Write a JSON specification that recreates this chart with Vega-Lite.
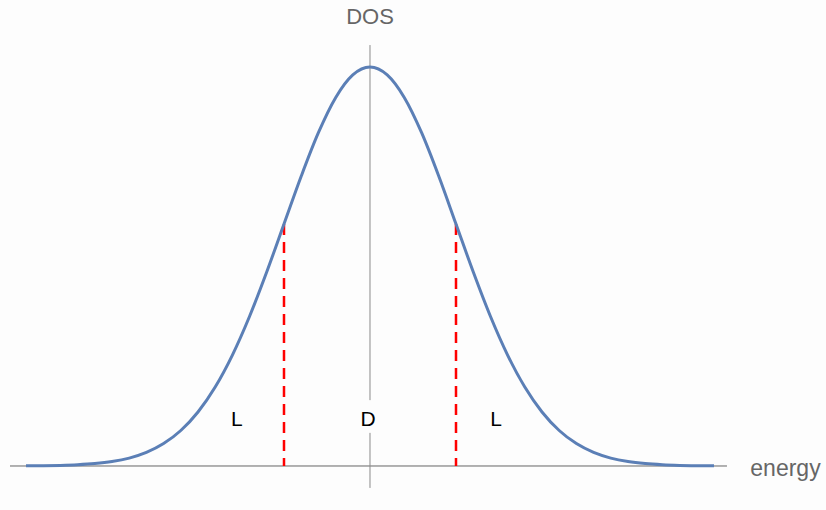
{
  "$schema": "https://vega.github.io/schema/vega-lite/v6.json",
  "width": 826,
  "height": 510,
  "autosize": "none",
  "padding": 0,
  "background": "#fdfdfd",
  "config": {"view": {"stroke": null}},
  "datasets": {
    "curve": [
      {"e": -4.0, "dos": 0.0003}, {"e": -3.8, "dos": 0.0007}, {"e": -3.6, "dos": 0.0015},
      {"e": -3.4, "dos": 0.0031}, {"e": -3.2, "dos": 0.0060}, {"e": -3.0, "dos": 0.0111},
      {"e": -2.8, "dos": 0.0198}, {"e": -2.6, "dos": 0.0340}, {"e": -2.4, "dos": 0.0561},
      {"e": -2.2, "dos": 0.0889}, {"e": -2.0, "dos": 0.1353}, {"e": -1.8, "dos": 0.1979},
      {"e": -1.6, "dos": 0.2780}, {"e": -1.4, "dos": 0.3753}, {"e": -1.2, "dos": 0.4868},
      {"e": -1.0, "dos": 0.6065}, {"e": -0.8, "dos": 0.7261}, {"e": -0.6, "dos": 0.8353},
      {"e": -0.4, "dos": 0.9231}, {"e": -0.2, "dos": 0.9802}, {"e": 0.0, "dos": 1.0},
      {"e": 0.2, "dos": 0.9802}, {"e": 0.4, "dos": 0.9231}, {"e": 0.6, "dos": 0.8353},
      {"e": 0.8, "dos": 0.7261}, {"e": 1.0, "dos": 0.6065}, {"e": 1.2, "dos": 0.4868},
      {"e": 1.4, "dos": 0.3753}, {"e": 1.6, "dos": 0.2780}, {"e": 1.8, "dos": 0.1979},
      {"e": 2.0, "dos": 0.1353}, {"e": 2.2, "dos": 0.0889}, {"e": 2.4, "dos": 0.0561},
      {"e": 2.6, "dos": 0.0340}, {"e": 2.8, "dos": 0.0198}, {"e": 3.0, "dos": 0.0111},
      {"e": 3.2, "dos": 0.0060}, {"e": 3.4, "dos": 0.0031}, {"e": 3.6, "dos": 0.0015},
      {"e": 3.8, "dos": 0.0007}, {"e": 4.0, "dos": 0.0003}
    ],
    "xaxis": [{"x1": -4.186, "x2": 4.151, "y": 0}],
    "yaxis": [
      {"x": 0, "y1": 0.165, "y2": 1.055},
      {"x": 0, "y1": -0.055, "y2": 0.083}
    ],
    "cuts": [
      {"x": -1.0, "y1": 0.6065, "y2": 0},
      {"x": 1.0, "y1": 0.6065, "y2": 0}
    ],
    "titles": [
      {"label": "DOS", "x": 0, "y": 1.125}
    ],
    "titles2": [
      {"label": "energy", "x": 4.831, "y": -0.008}
    ],
    "regions": [
      {"label": "L", "x": -1.547, "y": 0.115},
      {"label": "D", "x": -0.023, "y": 0.115},
      {"label": "L", "x": 1.465, "y": 0.115}
    ]
  },
  "layer": [
    {
      "data": {"name": "xaxis"},
      "mark": {"type": "rule", "color": "#666666", "strokeWidth": 1},
      "encoding": {
        "x": {"field": "x1", "type": "quantitative", "scale": {"domain": [-4.3023, 5.3023], "nice": false, "zero": false}, "axis": null},
        "x2": {"field": "x2"},
        "y": {"field": "y", "type": "quantitative", "scale": {"domain": [-0.1103, 1.1679], "nice": false, "zero": false}, "axis": null}
      }
    },
    {
      "data": {"name": "yaxis"},
      "mark": {"type": "rule", "color": "#8a8a8a", "strokeWidth": 1},
      "encoding": {
        "x": {"field": "x", "type": "quantitative"},
        "y": {"field": "y1", "type": "quantitative"},
        "y2": {"field": "y2"}
      }
    },
    {
      "data": {"name": "cuts"},
      "mark": {"type": "rule", "color": "#ff0000", "strokeWidth": 2.5, "strokeDash": [11, 7]},
      "encoding": {
        "x": {"field": "x", "type": "quantitative"},
        "y": {"field": "y1", "type": "quantitative"},
        "y2": {"field": "y2"}
      }
    },
    {
      "data": {"name": "curve"},
      "mark": {"type": "line", "color": "#5b7fb6", "strokeWidth": 3, "interpolate": "monotone"},
      "encoding": {
        "x": {"field": "e", "type": "quantitative"},
        "y": {"field": "dos", "type": "quantitative"}
      }
    },
    {
      "data": {"name": "titles"},
      "mark": {"type": "text", "color": "#666666", "fontSize": 22, "font": "Liberation Sans", "align": "center", "baseline": "middle"},
      "encoding": {
        "x": {"field": "x", "type": "quantitative"},
        "y": {"field": "y", "type": "quantitative"},
        "text": {"field": "label"}
      }
    },
    {
      "data": {"name": "titles2"},
      "mark": {"type": "text", "color": "#666666", "fontSize": 23, "font": "Liberation Sans", "align": "center", "baseline": "middle"},
      "encoding": {
        "x": {"field": "x", "type": "quantitative"},
        "y": {"field": "y", "type": "quantitative"},
        "text": {"field": "label"}
      }
    },
    {
      "data": {"name": "regions"},
      "mark": {"type": "text", "color": "#000000", "fontSize": 21, "font": "Liberation Sans", "align": "center", "baseline": "middle"},
      "encoding": {
        "x": {"field": "x", "type": "quantitative"},
        "y": {"field": "y", "type": "quantitative"},
        "text": {"field": "label"}
      }
    }
  ]
}
